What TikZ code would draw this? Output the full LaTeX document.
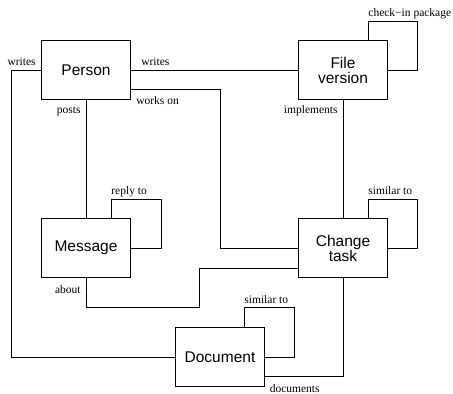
\documentclass[tikz,border=0pt]{standalone}
\usepackage{fontspec}
\setmainfont{Liberation Serif}
\newfontfamily\boxfont{Liberation Sans}
\begin{document}
\begin{tikzpicture}[x=1pt,y=1pt,line width=.8pt,
    entity/.style={draw,rectangle,minimum width=89pt,minimum height=59pt,
      inner sep=0pt,align=center,font=\boxfont\fontsize{15.5}{15}\selectfont},
    lbl/.style={inner sep=0pt,font=\fontsize{11.5}{12}\selectfont}]
  \useasboundingbox (0,0) rectangle (453,394);

  \node[entity] (person) at (86,324) {Person};
  \node[entity] (fileversion) at (343,324) {File\\version};
  \node[entity] (message) at (86,146) {Message};
  \node[entity] (changetask) at (343,146) {Change\\task};
  \node[entity] (document) at (220,37) {Document};

  % links from person
  \draw (person.west) node[lbl,anchor=base east,xshift=-5pt,yshift=4.5pt] (wrdoc) {writes}
    -- ++(-30,0) |- (document.west);
  \draw (person.east) node[lbl,anchor=base west,xshift=10pt,yshift=4.5pt] (wrfile) {writes}
    -- (fileversion.west);
  \draw ([yshift=10pt]person.south east) node[lbl,anchor=base west,xshift=5pt,yshift=-15pt] (works) {works on}
    -- ++(89,0) |- (changetask.west);
  \draw (person.south) node[lbl,anchor=base east,xshift=-5pt,yshift=-13.5pt] (posts) {posts}
    -- (message.north);

  % message
  \draw ([xshift=25pt]message.north) -- ++(0,19) node[lbl,anchor=base west,yshift=4.5pt] (reply) {reply to}
    -| ([xshift=30pt]message.east) -- (message.east);
  \draw (message.south) node[lbl,anchor=base east,xshift=-5pt,yshift=-16pt] (about) {about}
    -- ++(0,-30) -| ([xshift=-98.5pt,yshift=9pt]changetask.south west)
    -- ([yshift=9pt]changetask.south west);

  % file version
  \draw ([xshift=25pt]fileversion.north) -- ++(0,19) node[lbl,anchor=base west,yshift=4.5pt] (checkin) {check−in package}
    -| ([xshift=29pt]fileversion.east) -- (fileversion.east);
  \draw (fileversion.south) node[lbl,anchor=base east,xshift=-5pt,yshift=-13.5pt] (impl) {implements}
    -- (changetask.north);

  % change task
  \draw ([xshift=25pt]changetask.north) -- ++(0,19) node[lbl,anchor=base west,yshift=4.5pt] (simct) {similar to}
    -| ([xshift=29pt]changetask.east) -- (changetask.east);
  \draw (changetask.south) |- ([yshift=10.5pt]document.south east)
    node[lbl,anchor=base west,xshift=4.5pt,yshift=-16pt] (docs) {documents};

  % document
  \draw ([xshift=24pt]document.north) -- ++(0,20) node[lbl,anchor=base west,yshift=4pt] (simdoc) {similar to}
    -| ([xshift=29pt]document.east) -- (document.east);
\end{tikzpicture}
\end{document}
